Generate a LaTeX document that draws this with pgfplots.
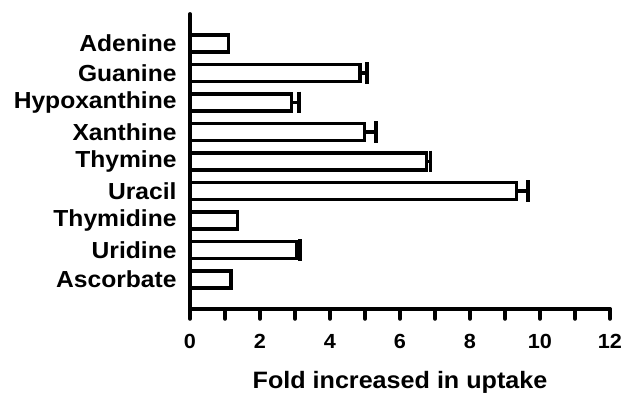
\documentclass[border=0pt]{standalone}
\usepackage{pgfplots}
\pgfplotsset{compat=1.18}
\usepackage{fontspec}
\setmainfont{Liberation Sans}[FakeStretch=1.06]
\begin{document}
\begin{tikzpicture}
\begin{axis}[
  at={(0,0)}, anchor=origin,
  scale only axis,
  width=420bp, height=295bp,
  xbar, bar width=17bp, bar shift=0pt,
  xmin=0, xmax=12, ymin=0, ymax=10,
  axis lines=left,
  axis line style={-, line width=3.8bp, line cap=round},
  xtick={0,2,...,12},
  minor xtick={1,3,...,11},
  ytick={1,...,9},
  yticklabels={Ascorbate,Uridine,Thymidine,Uracil,Thymine,Xanthine,Hypoxanthine,Guanine,Adenine},
  tick align=outside,
  major tick length=10bp, minor tick length=10bp,
  xtick style={line width=3.5bp, line cap=round, black},
  ytick style={draw=none},
  xticklabel style={font=\fontsize{20.5}{21}\selectfont\bfseries, yshift=-12bp},
  yticklabel style={font=\fontsize{23.3}{24}\selectfont\bfseries, xshift=0bp},
  /pgf/number format/assume math mode=true,
  xlabel={Fold increased in uptake},
  xlabel style={font=\fontsize{23.8}{25}\selectfont\bfseries, yshift=-15bp},
  clip=false,
]
% all bars
\addplot[draw=black, fill=white, line width=3.5bp]
  coordinates {
  (1.17,1) (3.05,2) (1.36,3) (9.33,4) (6.75,5)
  (4.98,6) (2.9,7) (4.85,8) (1.1,9)
  };
% bars with SEM
\addplot[draw=black, fill=white, line width=3.5bp,
  error bars/.cd, x dir=plus, x explicit,
  error bar style={line width=3.5bp, black},
  error mark=|,
  error mark options={line width=3.5bp, mark size=11pt, black}]
  coordinates {
  (3.05,2) +- (0.1,0)
  (9.33,4) +- (0.32,0)
  (6.75,5) +- (0.12,0)
  (4.98,6) +- (0.34,0)
  (2.9,7) +- (0.21,0)
  (4.85,8) +- (0.21,0)
  };
\end{axis}
\pgfresetboundingbox
\path[use as bounding box] (-190bp,-87bp) rectangle (434bp,309bp);
\end{tikzpicture}
\end{document}
